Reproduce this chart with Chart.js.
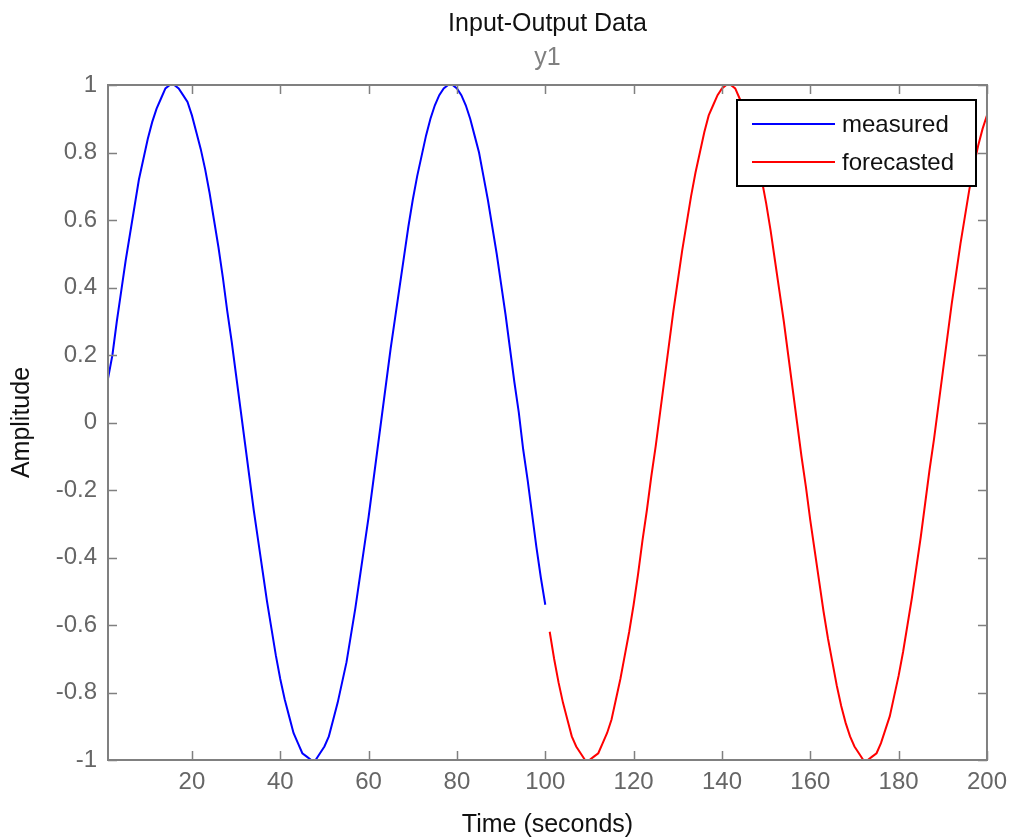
<!DOCTYPE html>
<html>
<head>
<meta charset="utf-8">
<script src="https://cdn.jsdelivr.net/npm/chart.js@4/dist/chart.umd.min.js"></script>
<style>
  html, body { margin: 0; padding: 0; background: #fff; }
  #wrap { width: 1015px; height: 840px; }
</style>
</head>
<body>
<div id="wrap"><canvas id="ioChart" width="1015" height="840"></canvas></div>
<script>
// values, one sample per second
const measuredValues = [
  0.13, 0.20, 0.30, 0.39, 0.48, 0.56, 0.64, 0.72, 0.78, 0.84,
  0.89, 0.93, 0.96, 0.99, 1.00, 1.00, 0.99, 0.97, 0.95, 0.91,
  0.86, 0.81, 0.75, 0.68, 0.60, 0.52, 0.43, 0.33, 0.24, 0.14,
  0.04, -0.06, -0.16, -0.26, -0.35, -0.44, -0.53, -0.61, -0.69, -0.76,
  -0.82, -0.87, -0.92, -0.95, -0.98, -0.99, -1.00, -1.00, -0.98, -0.96,
  -0.93, -0.88, -0.83, -0.77, -0.71, -0.63, -0.55, -0.46, -0.37, -0.28,
  -0.18, -0.08, 0.02, 0.12, 0.22, 0.31, 0.40, 0.49, 0.58, 0.66,
  0.73, 0.79, 0.85, 0.90, 0.94, 0.97, 0.99, 1.00, 1.00, 0.99,
  0.97, 0.94, 0.90, 0.85, 0.80, 0.73, 0.66, 0.58, 0.50, 0.41,
  0.32, 0.22, 0.12, 0.03, -0.08, -0.17, -0.27, -0.37, -0.46, -0.54
];
const forecastValues = [
  -0.62, -0.70, -0.77, -0.83, -0.88, -0.93, -0.96, -0.98, -1.00, -1.00,
  -0.99, -0.98, -0.95, -0.92, -0.88, -0.82, -0.76, -0.69, -0.62, -0.54,
  -0.45, -0.35, -0.26, -0.16, -0.07, 0.03, 0.13, 0.23, 0.33, 0.42,
  0.51, 0.59, 0.67, 0.74, 0.80, 0.86, 0.91, 0.94, 0.97, 0.99,
  1.00, 1.00, 0.99, 0.96, 0.93, 0.89, 0.84, 0.79, 0.72, 0.65,
  0.57, 0.48, 0.39, 0.30, 0.20, 0.10, 0.00, -0.10, -0.19, -0.29,
  -0.38, -0.47, -0.56, -0.64, -0.71, -0.78, -0.84, -0.89, -0.93, -0.96,
  -0.98, -1.00, -1.00, -0.99, -0.98, -0.95, -0.91, -0.87, -0.81, -0.75,
  -0.68, -0.60, -0.52, -0.43, -0.34, -0.24, -0.14, -0.05, 0.05, 0.15,
  0.25, 0.35, 0.44, 0.53, 0.61, 0.69, 0.76, 0.82, 0.87, 0.91
];
const measuredStart = 1;
const forecastStart = 101;
const xTicks = [20, 40, 60, 80, 100, 120, 140, 160, 180, 200];
const yTicks = [-1, -0.8, -0.6, -0.4, -0.2, 0, 0.2, 0.4, 0.6, 0.8, 1];
const seriesNames = ['measured', 'forecasted'];
const seriesColors = ['#0000ff', '#ff0000'];

function toPoints(start, values) {
  return values.map((v, i) => ({ x: start + i, y: v }));
}

const FONT = "'Liberation Sans', Arial, Helvetica, sans-serif";
const AXIS_GRAY = '#808080';

// MATLAB style box with inward ticks and a framed legend
const matlabAxes = {
  id: 'matlabAxes',
  afterDatasetsDraw(chart) {
    const { ctx, chartArea: a, scales: { x, y } } = chart;
    ctx.save();
    ctx.strokeStyle = AXIS_GRAY;
    ctx.lineWidth = 1.5;
    const tl = 9;
    ctx.beginPath();
    xTicks.forEach(v => {
      const px = Math.round(x.getPixelForValue(v)) + 0.5;
      ctx.moveTo(px, a.bottom); ctx.lineTo(px, a.bottom - tl);
      ctx.moveTo(px, a.top); ctx.lineTo(px, a.top + tl);
    });
    yTicks.forEach(v => {
      const py = Math.round(y.getPixelForValue(v)) + 0.5;
      ctx.moveTo(a.left, py); ctx.lineTo(a.left + tl, py);
      ctx.moveTo(a.right, py); ctx.lineTo(a.right - tl, py);
    });
    ctx.stroke();
    ctx.lineWidth = 2;
    ctx.strokeRect(a.left, a.top, a.right - a.left, a.bottom - a.top);

    // legend
    const lx = 737, ly = 100, lw = 239, lh = 86;
    ctx.fillStyle = '#ffffff';
    ctx.fillRect(lx, ly, lw, lh);
    ctx.strokeStyle = '#000000';
    ctx.lineWidth = 2;
    ctx.strokeRect(lx, ly, lw, lh);
    ctx.font = '24px ' + FONT;
    ctx.textBaseline = 'middle';
    ctx.textAlign = 'left';
    chart.data.datasets.forEach((ds, i) => {
      const rowY = ly + 24 + i * 38;
      ctx.strokeStyle = ds.borderColor;
      ctx.lineWidth = 2;
      ctx.beginPath();
      ctx.moveTo(lx + 15, rowY); ctx.lineTo(lx + 98, rowY);
      ctx.stroke();
      ctx.fillStyle = '#111111';
      ctx.fillText(ds.label, lx + 105, rowY + 1);
    });
    ctx.restore();
  }
};

new Chart(document.getElementById('ioChart').getContext('2d'), {
  type: 'line',
  data: {
    datasets: [
      {
        label: seriesNames[0],
        data: toPoints(measuredStart, measuredValues),
        borderColor: seriesColors[0],
        borderWidth: 2,
        pointRadius: 0,
        tension: 0
      },
      {
        label: seriesNames[1],
        data: toPoints(forecastStart, forecastValues),
        borderColor: seriesColors[1],
        borderWidth: 2,
        pointRadius: 0,
        tension: 0
      }
    ]
  },
  options: {
    responsive: false,
    animation: false,
    layout: { padding: { left: 0, right: 27, top: 0, bottom: 0 } },
    plugins: {
      legend: { display: false },
      tooltip: { enabled: false },
      title: {
        display: true,
        fullSize: false,
        text: 'Input-Output Data',
        color: '#111111',
        font: { family: FONT, size: 25, weight: 'normal' },
        padding: { top: 9, bottom: 0 }
      },
      subtitle: {
        display: true,
        fullSize: false,
        text: 'y1',
        color: '#808080',
        font: { family: FONT, size: 25, weight: 'normal' },
        padding: { top: 4, bottom: 12 }
      }
    },
    scales: {
      x: {
        type: 'linear',
        min: 1,
        max: 200,
        afterFit: s => { s.height = 80; },
        afterBuildTicks: s => { s.ticks = xTicks.map(v => ({ value: v })); },
        grid: { display: false, drawTicks: false },
        border: { display: false },
        ticks: {
          color: '#666666',
          font: { family: FONT, size: 24 },
          padding: 8,
          maxRotation: 0,
          autoSkip: false
        },
        title: {
          display: true,
          text: 'Time (seconds)',
          color: '#111111',
          font: { family: FONT, size: 25 },
          padding: { top: 0, bottom: 0 }
        }
      },
      y: {
        min: -1,
        max: 1,
        afterFit: s => { s.width = 108; },
        afterBuildTicks: s => { s.ticks = yTicks.map(v => ({ value: v })); },
        grid: { display: false, drawTicks: false },
        border: { display: false },
        ticks: {
          color: '#666666',
          font: { family: FONT, size: 24 },
          padding: 11,
          autoSkip: false,
          callback: v => String(Math.round(v * 10) / 10)
        },
        title: {
          display: true,
          text: 'Amplitude',
          color: '#111111',
          font: { family: FONT, size: 25 },
          padding: { top: 7, bottom: 0 }
        }
      }
    }
  },
  plugins: [matlabAxes]
});
</script>
</body>
</html>
